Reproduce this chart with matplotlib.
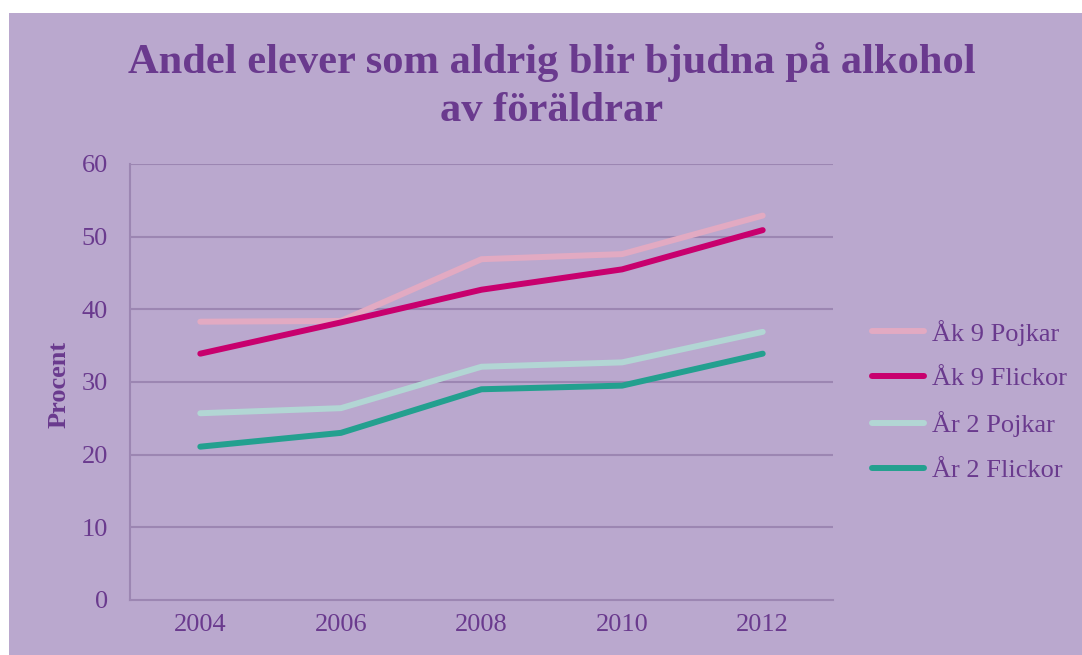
import matplotlib
matplotlib.use("Agg")
import matplotlib.pyplot as plt
from matplotlib.patches import Rectangle

years = ["2004", "2006", "2008", "2010", "2012"]
ak9_pojkar = [38.3, 38.4, 46.9, 47.6, 52.9]
ak9_flickor = [33.9, 38.2, 42.7, 45.5, 50.9]
ar2_pojkar = [25.7, 26.4, 32.1, 32.7, 36.9]
ar2_flickor = [21.1, 23.0, 29.0, 29.5, 33.9]
series_names = ["Åk 9 Pojkar", "Åk 9 Flickor", "År 2 Pojkar", "År 2 Flickor"]
series_colors = ["#E2AAC2", "#C8006E", "#B2D6D4", "#23A08F"]
yticks = [0, 10, 20, 30, 40, 50, 60]

bg = "#BAA8CE"
txt = "#6A3A8E"
grid = "#9C86B2"
W, H = 1082, 655

plt.rcParams['font.family'] = ['Liberation Serif', 'DejaVu Serif']

fig = plt.figure(figsize=(W / 100, H / 100), dpi=100)
fig.patch.set_facecolor("white")
fig.patches.append(Rectangle((9 / W, 0), 1 - 9 / W, 1 - 13 / H,
                             transform=fig.transFigure, facecolor=bg,
                             edgecolor="none", zorder=-10))

left, right, top, bottom = 130, 833, 164, 600
ax = fig.add_axes([left / W, 1 - bottom / H, (right - left) / W, (bottom - top) / H])
ax.set_facecolor(bg)
ax.patch.set_alpha(0)

x = list(range(len(years)))
for vals, name, col in zip([ak9_pojkar, ak9_flickor, ar2_pojkar, ar2_flickor],
                           series_names, series_colors):
    ax.plot(x, vals, color=col, lw=4.3, solid_capstyle="round",
            solid_joinstyle="round", label=name, zorder=3)

ax.set_xlim(-0.5, len(years) - 0.5)
ax.set_ylim(0, 60)
ax.set_yticks(yticks)
ax.set_yticklabels([str(v) for v in yticks])
ax.set_xticks(x)
ax.set_xticklabels(years)
ax.tick_params(axis="both", length=0, labelsize=19, labelcolor=txt)
ax.tick_params(axis="y", pad=16)
ax.tick_params(axis="x", pad=10)
for yv in yticks[1:]:
    ax.axhline(yv, color=grid, lw=1.5, zorder=1)
for s in ["top", "right"]:
    ax.spines[s].set_visible(False)
ax.spines["left"].set_color(grid)
ax.spines["bottom"].set_color(grid)
ax.spines["left"].set_linewidth(1.5)
ax.spines["bottom"].set_linewidth(1.5)

fig.text(59 / W, 1 - 384 / H, "Procent", rotation=90, ha="center", va="center",
         fontsize=19, fontweight="bold", color=txt)

fig.text(552 / W, 1 - 73 / H, "Andel elever som aldrig blir bjudna på alkohol",
         ha="center", va="baseline", fontsize=30.6, fontweight="bold", color=txt)
fig.text(552 / W, 1 - 121 / H, "av föräldrar",
         ha="center", va="baseline", fontsize=30.6, fontweight="bold", color=txt)

leg = ax.legend(loc="upper left", bbox_to_anchor=(861 / W, 1 - 309 / H),
                bbox_transform=fig.transFigure, frameon=False,
                fontsize=19, labelcolor=txt, handlelength=2.0,
                handletextpad=0.3, labelspacing=0.8, borderaxespad=0)

fig.savefig("out.png", dpi=100, facecolor=fig.get_facecolor())
